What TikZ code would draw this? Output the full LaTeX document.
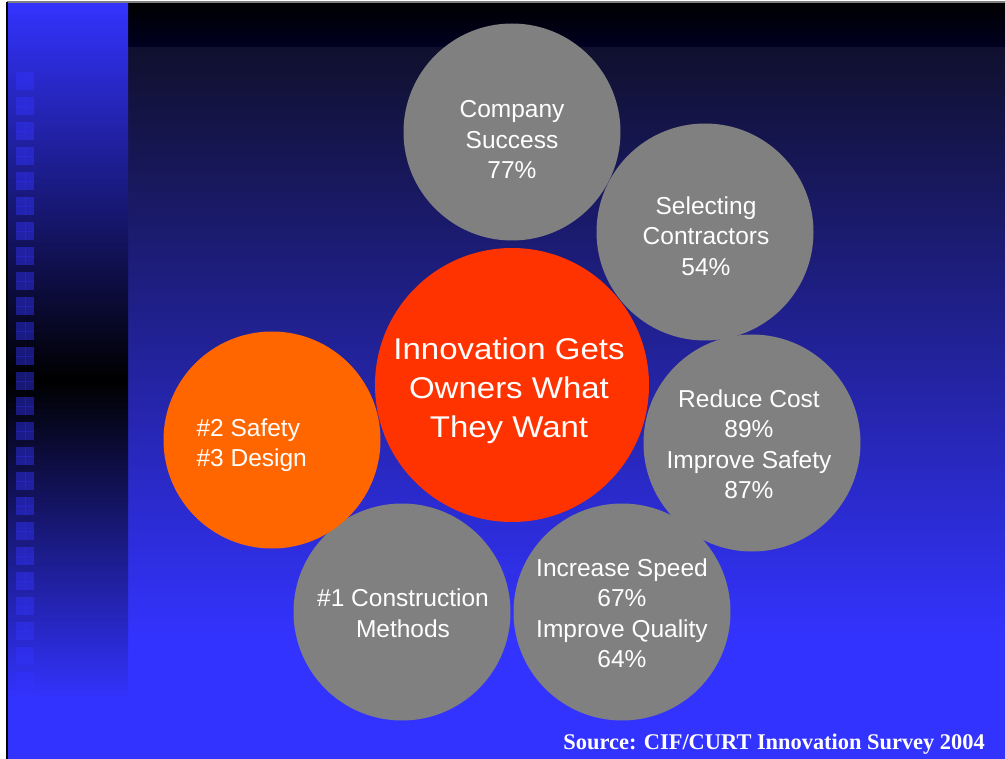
\documentclass[tikz,border=0pt]{standalone}
\usepackage{fontspec}
\setmainfont{Liberation Sans}
\newfontfamily\bigfont[FakeStretch=1.1]{Liberation Sans}
\newfontfamily\srcfont{Liberation Serif}
\definecolor{slideblue}{RGB}{51,51,255}
\definecolor{navy}{RGB}{16,16,46}
\definecolor{topband}{RGB}{0,0,34}
\definecolor{bubblegray}{RGB}{128,128,128}
\definecolor{hotred}{RGB}{255,51,0}
\definecolor{hotorange}{RGB}{255,102,0}

\begin{document}
\begin{tikzpicture}[x=1pt,y=-1pt,
    bubble/.style={circle,fill=bubblegray,minimum size=217pt,inner sep=0pt},
    txt/.style={text=white,align=center,font=\fontsize{24.5}{30.5}\selectfont},
    tile/.style={fill=slideblue,fill opacity=0.45}]
                      \useasboundingbox (0,0) rectangle (1005,759);
                      % background
                      \fill[slideblue] (7,2) rectangle (1005,759);
                      \shade[top color=black,bottom color=topband] (128,2) rectangle (1005,48);
                      \shade[top color=navy,bottom color=slideblue] (128,48) rectangle (1005,640);
                      \shade[top color=slideblue,bottom color=black] (7,2) rectangle (128,380);
                      \shade[top color=black,bottom color=slideblue] (7,380) rectangle (128,700);
                      \foreach \k in {0,...,24}{
                        \fill[tile] (16,72+25*\k) rectangle (34,90+25*\k);
                        \draw[slideblue,opacity=0.3,line width=0.6pt] (25,72+25*\k)--(25,90+25*\k) (16,81+25*\k)--(34,81+25*\k);
                      }
                      \draw[gray,line width=1.5pt] (7,2)--(1005,2);
                      \draw[black,line width=1.5pt] (7,2)--(7,759);

                      % bubbles
                      \node (success) at (512,132) [bubble] {};
                      \node (contractors) at (705,232) [bubble] {};
                      \node (cost) at (752,443) [bubble] {};
                      \node (speed) at (622,612) [bubble] {};
                      \node (methods) at (402,612) [bubble] {};
                      \node (safety) at (272,440) [bubble,fill=hotorange] {};
                      \node (owners) at (512,385) [circle,fill=hotred,minimum size=274pt,inner sep=0pt] {};

                      \node (t1) at ([yshift=-8]success) [txt] {Company\\Success\\77\%};
                      \node (t2) at ([xshift=1,yshift=-4]contractors) [txt] {Selecting\\Contractors\\54\%};
                      \node (t3) at ([xshift=-3,yshift=-1]cost) [txt] {Reduce Cost\\89\%\\Improve Safety\\87\%};
                      \node (t4) at ([yshift=-1]speed) [txt] {Increase Speed\\67\%\\Improve Quality\\64\%};
                      \node (t5) at ([xshift=1,yshift=-1]methods) [txt] {\#1 Construction\\Methods};
                      \node (t6) at (193,445) [txt,anchor=west,align=left] {\#2 Safety\\\#3 Design};
                      \node (t7) at ([xshift=-3,yshift=-6]owners) [txt,font=\bigfont\fontsize{30}{39}\selectfont] {Innovation Gets\\Owners What\\They Want};

                      \node (src) at (985,749) [anchor=base east,text=white,inner sep=0pt,font=\srcfont\bfseries\fontsize{22.4}{26}\selectfont] {Source: CIF/CURT Innovation Survey 2004};
                \end{tikzpicture}
\end{document}
